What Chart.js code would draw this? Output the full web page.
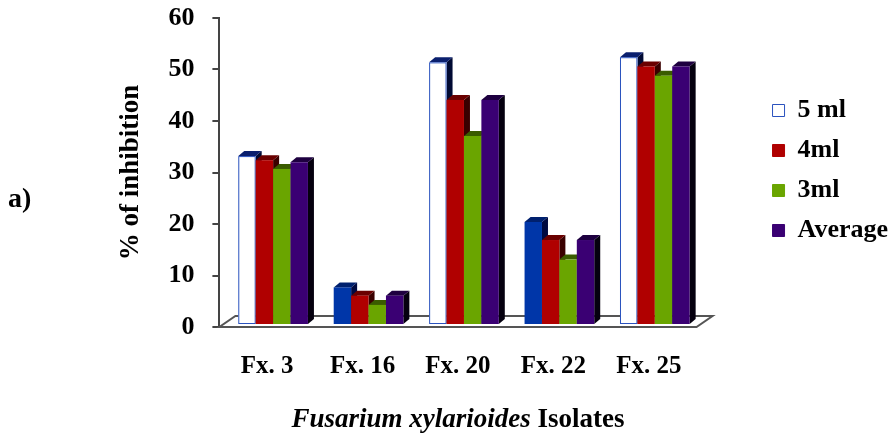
<!DOCTYPE html>
<html>
<head>
<meta charset="utf-8">
<script src="https://cdn.jsdelivr.net/npm/chart.js@4.4.1/dist/chart.umd.min.js"></script>
<style>
  html, body { margin: 0; padding: 0; background: #fff; }
  #wrap { width: 894px; height: 434px; position: relative; }
</style>
</head>
<body>
<div id="wrap"><canvas id="chart"></canvas></div>
<script>
// Data
const categories = ['Fx. 3', 'Fx. 16', 'Fx. 20', 'Fx. 22', 'Fx. 25'];
const seriesNames = ['5 ml', '4ml', '3ml', 'Average'];
const ml5 = [32.8, 7.3, 51.0, 20.0, 52.0];
const ml4 = [32.0, 5.7, 43.7, 16.5, 50.2];
const ml3 = [30.3, 3.9, 36.7, 12.7, 48.4];
const average = [31.6, 5.7, 43.7, 16.5, 50.2];
const yTicks = [0, 10, 20, 30, 40, 50, 60];

const SERIF = '"Liberation Serif", "Times New Roman", serif';

// faces: front / top / side, per bar
const white5 = { front: '#ffffff', top: '#0a1f6e', side: '#000a33', stroke: '#2a52be' };
const blue5 = { front: '#0036a8', top: '#00206e', side: '#000a40', stroke: '#0036a8' };
const faces5 = [white5, blue5, white5, blue5, white5];
const faces4 = { front: '#b00000', top: '#6a0000', side: '#3a0000' };
const faces3 = { front: '#6aa500', top: '#3a5c00', side: '#223800' };
const facesAvg = { front: '#3a0073', top: '#1e0040', side: '#05000f' };

const legendFill = ['#ffffff', '#b00000', '#6aa500', '#3a0073'];
const legendStroke = ['#2a52be', '#b00000', '#6aa500', '#3a0073'];

const depth = { dx: 6, dy: -5 };   // bar depth
const floorDepth = { dx: 16, dy: -11 };
const shift = { dx: 6, dy: -2 };   // bars sit a bit back on the floor
const legendGap = 58;              // empty room between floor and legend
const legendNudge = { x: 4, y: -4 };

function facesFor(i, j) {
  if (i === 0) return faces5[j];
  return [null, faces4, faces3, facesAvg][i];
}

const bars3d = {
  id: 'bars3d',
  beforeInit(chart) {
    const fit = chart.legend.fit;
    chart.legend.fit = function () {
      fit.bind(chart.legend)();
      this.width += legendGap;
    };
  },
  afterLayout(chart) {
    chart.legend.left += legendGap + legendNudge.x;
    chart.legend.top += legendNudge.y;
  },
  beforeDatasetsDraw(chart) {
    const { ctx, chartArea: a } = chart;
    ctx.save();
    // floor
    ctx.beginPath();
    ctx.moveTo(a.left, a.bottom);
    ctx.lineTo(a.right, a.bottom);
    ctx.lineTo(a.right + floorDepth.dx, a.bottom + floorDepth.dy);
    ctx.lineTo(a.left + floorDepth.dx, a.bottom + floorDepth.dy);
    ctx.closePath();
    ctx.fillStyle = '#fff';
    ctx.fill();
    ctx.strokeStyle = '#555';
    ctx.lineWidth = 2;
    ctx.stroke();

    ctx.translate(shift.dx, shift.dy);
    chart.data.datasets.forEach((ds, i) => {
      const meta = chart.getDatasetMeta(i);
      meta.data.forEach((bar, j) => {
        const p = bar.getProps(['x', 'y', 'base', 'width'], true);
        const f = facesFor(i, j);
        const l = p.x - p.width / 2, r = p.x + p.width / 2;
        // side
        ctx.beginPath();
        ctx.moveTo(r, p.y);
        ctx.lineTo(r + depth.dx, p.y + depth.dy);
        ctx.lineTo(r + depth.dx, p.base + depth.dy);
        ctx.lineTo(r, p.base);
        ctx.closePath();
        ctx.fillStyle = f.side;
        ctx.fill();
        // top
        ctx.beginPath();
        ctx.moveTo(l, p.y);
        ctx.lineTo(l + depth.dx, p.y + depth.dy);
        ctx.lineTo(r + depth.dx, p.y + depth.dy);
        ctx.lineTo(r, p.y);
        ctx.closePath();
        ctx.fillStyle = f.top;
        ctx.fill();
        // front
        ctx.fillStyle = f.front;
        ctx.fillRect(l, p.y, p.width, p.base - p.y);
        if (f.stroke && f.front === '#ffffff') {
          ctx.strokeStyle = f.stroke;
          ctx.lineWidth = 1;
          ctx.strokeRect(l + 0.5, p.y + 0.5, p.width - 1, p.base - p.y - 1);
        }
      });
    });
    ctx.restore();
    return false;
  },
  afterDraw(chart) {
    const { ctx, chartArea: a } = chart;
    ctx.save();
    ctx.fillStyle = '#000';
    ctx.textBaseline = 'middle';
    // x axis title, mixed italic / upright
    const italicPart = 'Fusarium xylarioides';
    const plainPart = ' Isolates';
    ctx.font = 'italic bold 27px ' + SERIF;
    const w1 = ctx.measureText(italicPart).width;
    ctx.font = 'bold 27px ' + SERIF;
    const w2 = ctx.measureText(plainPart).width;
    const cx = (a.left + a.right) / 2;
    const x0 = cx - (w1 + w2) / 2;
    const ty = a.bottom + 93;
    ctx.textAlign = 'left';
    ctx.font = 'italic bold 27px ' + SERIF;
    ctx.fillText(italicPart, x0, ty);
    ctx.font = 'bold 27px ' + SERIF;
    ctx.fillText(plainPart, x0 + w1, ty);
    // panel label
    ctx.font = 'bold 28px ' + SERIF;
    ctx.fillText('a)', 8, 200);
    ctx.restore();
  }
};

new Chart(document.getElementById('chart'), {
  type: 'bar',
  data: {
    labels: categories,
    datasets: [
      { label: seriesNames[0], data: ml5 },
      { label: seriesNames[1], data: ml4 },
      { label: seriesNames[2], data: ml3 },
      { label: seriesNames[3], data: average }
    ]
  },
  options: {
    responsive: true,
    maintainAspectRatio: false,
    animation: false,
    layout: { padding: { left: 115, top: 18, bottom: 27, right: 0 } },
    datasets: { bar: { barPercentage: 1, categoryPercentage: 0.73 } },
    plugins: {
      tooltip: { enabled: false },
      legend: {
        position: 'right',
        fullSize: false,
        labels: {
          color: '#000',
          font: { family: SERIF, size: 26, weight: 'bold' },
          boxWidth: 12,
          boxHeight: 12,
          padding: 14,
          generateLabels: () => seriesNames.map((n, i) => ({
            text: n,
            fillStyle: legendFill[i],
            strokeStyle: legendStroke[i],
            lineWidth: 1,
            datasetIndex: i
          }))
        }
      }
    },
    scales: {
      x: {
        grid: { display: false, drawTicks: false },
        border: { display: false },
        ticks: {
          color: '#000',
          padding: 25,
          font: { family: SERIF, size: 25, weight: 'bold' }
        }
      },
      y: {
        min: yTicks[0],
        max: yTicks[yTicks.length - 1],
        afterBuildTicks: (s) => { s.ticks = yTicks.map(v => ({ value: v })); },
        afterFit: (s) => { s.paddingTop = 0; s.paddingBottom = 0; },
        grid: { drawOnChartArea: false, drawTicks: true, tickLength: 7, color: '#444', lineWidth: 2 },
        border: { display: true, color: '#444', width: 2 },
        ticks: {
          color: '#000',
          padding: 18,
          font: { family: SERIF, size: 26, weight: 'bold' }
        },
        title: {
          display: true,
          text: '% of inhibition',
          color: '#000',
          padding: { top: 0, bottom: 3 },
          font: { family: SERIF, size: 27, weight: 'bold' }
        }
      }
    }
  },
  plugins: [bars3d]
});
</script>
</body>
</html>
